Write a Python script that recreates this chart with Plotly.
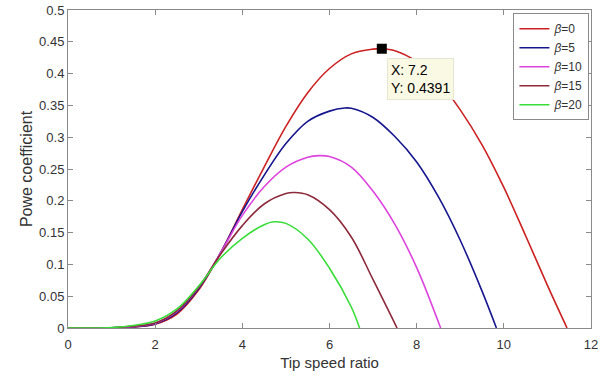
import plotly.graph_objects as go

# ---- data ----
x_b0 = [0, 0.5, 1.0, 1.5, 2.0, 2.5, 3.0, 3.5, 4.0, 4.5, 5.0, 5.5, 6.0, 6.5, 7.0, 7.2, 7.5, 8.0, 8.5, 9.0, 9.5, 10.0, 10.5, 11.0, 11.45]
y_b0 = [0, 0, 0.0002, 0.0015, 0.006, 0.022, 0.060, 0.118, 0.186, 0.253, 0.317, 0.370, 0.408, 0.431, 0.4385, 0.4391, 0.436, 0.419, 0.388, 0.343, 0.288, 0.221, 0.145, 0.067, 0]

x_b5 = [0, 0.5, 1.0, 1.5, 2.0, 2.5, 3.0, 3.5, 4.0, 4.5, 5.0, 5.5, 6.0, 6.35, 6.5, 7.0, 7.5, 8.0, 8.5, 9.0, 9.5, 9.83]
y_b5 = [0, 0, 0.0003, 0.002, 0.0065, 0.024, 0.062, 0.118, 0.183, 0.240, 0.290, 0.325, 0.341, 0.346, 0.3455, 0.331, 0.301, 0.261, 0.206, 0.138, 0.058, 0]

x_b10 = [0, 0.5, 1.0, 1.5, 2.0, 2.5, 3.0, 3.5, 4.0, 4.5, 5.0, 5.5, 5.76, 6.0, 6.5, 7.0, 7.5, 8.0, 8.55]
y_b10 = [0, 0, 0.0004, 0.0025, 0.0075, 0.026, 0.064, 0.118, 0.177, 0.222, 0.253, 0.2685, 0.271, 0.2695, 0.253, 0.215, 0.163, 0.095, 0]

x_b15 = [0, 0.5, 1.0, 1.5, 2.0, 2.5, 3.0, 3.5, 4.0, 4.5, 5.0, 5.2, 5.5, 6.0, 6.5, 7.0, 7.55]
y_b15 = [0, 0, 0.0005, 0.003, 0.008, 0.027, 0.064, 0.116, 0.161, 0.195, 0.2115, 0.213, 0.2095, 0.186, 0.143, 0.076, 0]

x_b20 = [0, 0.5, 1.0, 1.5, 2.0, 2.5, 3.0, 3.5, 4.0, 4.5, 4.72, 5.0, 5.5, 6.0, 6.5, 6.69]
y_b20 = [0, 0, 0.0008, 0.004, 0.011, 0.030, 0.066, 0.110, 0.141, 0.1625, 0.167, 0.1645, 0.140, 0.094, 0.033, 0]

series_names = ["<i>β</i>=0", "<i>β</i>=5", "<i>β</i>=10", "<i>β</i>=15", "<i>β</i>=20"]
series_colors = ["#cc2222", "#16168e", "#dd44dd", "#8c2a3c", "#38dd38"]

tip_x = [7.2]
tip_y = [0.4391]
tip_text = "X: 7.2<br>Y: 0.4391"

x_ticks = [0, 2, 4, 6, 8, 10, 12]
y_ticks = [0, 0.05, 0.1, 0.15, 0.2, 0.25, 0.3, 0.35, 0.4, 0.45, 0.5]
y_ticktext = ["0", "0.05", "0.1", "0.15", "0.2", "0.25", "0.3", "0.35", "0.4", "0.45", "0.5"]

xs = [x_b0, x_b5, x_b10, x_b15, x_b20]
ys = [y_b0, y_b5, y_b10, y_b15, y_b20]

FONT = "Liberation Sans, Arial"

fig = go.Figure()
for xv, yv, nm, col in zip(xs, ys, series_names, series_colors):
    fig.add_trace(go.Scatter(x=xv, y=yv, mode="lines", name=nm,
                             line=dict(color=col, width=1.6, shape="spline", smoothing=1.0)))

fig.add_trace(go.Scatter(x=tip_x, y=tip_y, mode="markers", showlegend=False,
                         marker=dict(symbol="square", size=10, color="black")))

fig.add_annotation(x=7.327, y=0.424, xref="x", yref="y", text=tip_text, showarrow=False,
                   xanchor="left", yanchor="top", align="left",
                   font=dict(family=FONT, size=14, color="black"),
                   bgcolor="#fafae4", bordercolor="#e6e6d2", borderwidth=1, borderpad=3)

axis_common = dict(showline=True, linecolor="#8a8a8a", linewidth=1, mirror="ticks",
                   ticks="inside", ticklen=5, tickcolor="#8a8a8a", showgrid=False, zeroline=False,
                   automargin=False,
                   tickfont=dict(family=FONT, size=13, color="#333333"))

fig.update_xaxes(range=[0, 12], tickvals=x_ticks, ticklabelstandoff=4,
                 title=dict(text="Tip speed ratio", font=dict(family=FONT, size=15, color="#333333"),
                            standoff=6),
                 **axis_common)
fig.update_yaxes(range=[0, 0.5], tickvals=y_ticks, ticktext=y_ticktext,
                 title=dict(text="Powe coefficient", font=dict(family=FONT, size=16, color="#333333"),
                            standoff=2),
                 **axis_common)

fig.update_layout(width=605, height=376, margin=dict(l=68, r=14, t=10, b=48),
                  plot_bgcolor="white", paper_bgcolor="white",
                  legend=dict(x=0.997, y=0.99, xanchor="right", yanchor="top",
                              bgcolor="white", bordercolor="#8a8a8a", borderwidth=1,
                              font=dict(family=FONT, size=12, color="#333333"),
                              tracegroupgap=0, itemwidth=30),
                  showlegend=True)

# remove the browser's default 8px body margin so the figure sits at the window origin
fig.write_html("out.html", config={"displayModeBar": False},
               post_script="document.body.style.margin='0';")
